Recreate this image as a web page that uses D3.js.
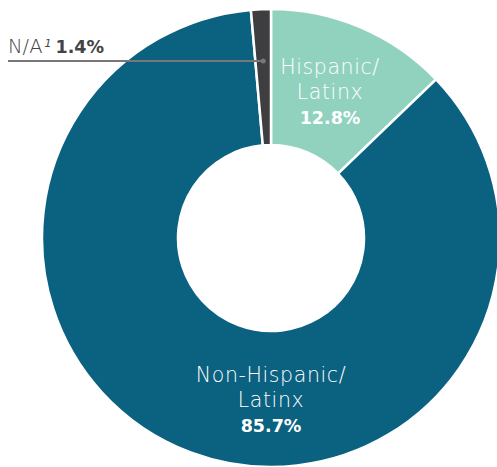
<!DOCTYPE html>
<html>
<head>
<meta charset="utf-8">
<script src="https://cdn.jsdelivr.net/npm/d3@7"></script>
<style>
  html, body { margin: 0; padding: 0; background: #fff; }
  svg text { font-family: "DejaVu Sans", "Open Sans", sans-serif; }
</style>
</head>
<body>
<svg id="chart" width="497" height="467"></svg>
<script>
// Ethnicity breakdown (percent), drawn clockwise from 12 o'clock
const categories = ["Hispanic/Latinx", "Non-Hispanic/Latinx", "N/A"];
const shares = [12.8, 85.7, 1.4];
const colors = ["#91d2bf", "#0b6180", "#3e3e40"];

const svg = d3.select("#chart");
const cx = 271, cy = 238;
const outerR = 229, innerR = 93;

const pie = d3.pie().sort(null).value(d => d.value);
const arcs = pie(categories.map((c, i) => ({ name: c, value: shares[i], color: colors[i] })));
const arc = d3.arc().innerRadius(innerR).outerRadius(outerR);

const g = svg.append("g").attr("transform", `translate(${cx},${cy})`);
g.selectAll("path.slice")
  .data(arcs)
  .join("path")
  .attr("class", "slice")
  .attr("d", arc)
  .attr("fill", d => d.data.color)
  .attr("stroke", "#fff")
  .attr("stroke-width", 2.5)
  .attr("stroke-linejoin", "miter");

// Labels inside the two large slices
function sliceLabel(x, y, lines, pct) {
  const t = g.append("text").attr("text-anchor", "middle").attr("fill", "#fff");
  lines.forEach((ln, i) => {
    t.append("tspan").attr("x", x).attr("y", y + i * 25)
      .attr("font-size", 20.5).attr("font-weight", 300)
      .attr("letter-spacing", 0.6).text(ln);
  });
  t.append("tspan").attr("x", x).attr("y", y + lines.length * 25)
    .attr("font-size", 17.5).attr("font-weight", 700).text(pct + "%");
}
sliceLabel(59, 74 - cy, ["Hispanic/", "Latinx"], shares[0]);
sliceLabel(0, 382 - cy, ["Non-Hispanic/", "Latinx"], shares[1]);

// Leader line for the thin N/A slice
const naArc = arcs[2];
const naMid = (naArc.startAngle + naArc.endAngle) / 2;
const leaderY = 61 - cy;
const leaderR = Math.abs(leaderY) / Math.cos(naMid);
const anchorX = leaderR * Math.sin(naMid);
g.append("line")
  .attr("x1", 8 - cx).attr("y1", leaderY)
  .attr("x2", anchorX).attr("y2", leaderY)
  .attr("stroke", "#777779").attr("stroke-width", 2);
g.append("circle")
  .attr("cx", anchorX).attr("cy", leaderY).attr("r", 2.5)
  .attr("fill", "#777779");

const na = svg.append("text").attr("x", 8).attr("y", 53).attr("fill", "#444446");
na.append("tspan").attr("font-size", 19.5).attr("font-weight", 300).text("N/A");
na.append("tspan").attr("font-size", 11).attr("font-style", "italic").attr("dy", -6).attr("dx", 2).text("1");
na.append("tspan").attr("font-size", 17.5).attr("font-weight", 700).attr("dy", 6).attr("dx", 4).text(shares[2] + "%");
</script>
</body>
</html>
